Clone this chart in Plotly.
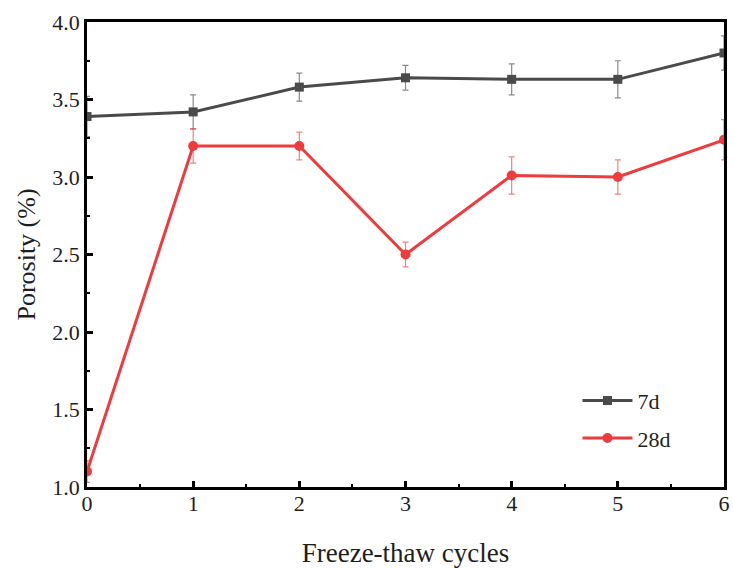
import plotly.graph_objects as go

# Freeze-thaw cycles and porosity (%) for two curing ages
cycles = [0, 1, 2, 3, 4, 5, 6]
porosity_7d = [3.39, 3.42, 3.58, 3.64, 3.63, 3.63, 3.80]
err_7d = [0.13, 0.11, 0.09, 0.08, 0.10, 0.12, 0.11]
porosity_28d = [1.10, 3.20, 3.20, 2.50, 3.01, 3.00, 3.24]
err_28d = [0.07, 0.11, 0.09, 0.08, 0.12, 0.11, 0.13]

font_family = "Liberation Serif, DejaVu Serif, serif"
text_color = "#1e1e1e"

fig = go.Figure()
fig.add_trace(go.Scatter(
    x=cycles, y=porosity_7d, name="7d", mode="lines+markers", legendgroup="a",
    line=dict(color="#4a4a4a", width=3),
    marker=dict(symbol="square", size=9, color="#4a4a4a"),
    error_y=dict(type="data", array=err_7d, color="rgba(74,74,74,0.65)",
                 thickness=1.2, width=3),
))
fig.add_trace(go.Scatter(
    x=cycles, y=porosity_28d, name="28d", mode="lines+markers", legendgroup="b",
    line=dict(color="#ef3b3d", width=3),
    marker=dict(symbol="circle", size=10, color="#ef3b3d"),
    error_y=dict(type="data", array=err_28d, color="rgba(239,59,61,0.65)",
                 thickness=1.2, width=3),
))

axis_common = dict(
    showline=True, linecolor="black", linewidth=2.5, mirror=True,
    ticks="inside", ticklen=6, tickwidth=2.5, tickcolor="black",
    showgrid=False, zeroline=False, automargin=False,
    tickfont=dict(family=font_family, size=22, color=text_color),
)

fig.update_xaxes(
    range=[0, 6], tickvals=cycles, ticklabelstandoff=-5,
    minor=dict(dtick=0.5, ticks="inside", ticklen=3, tickwidth=2, tickcolor="black"),
    title=dict(text="Freeze-thaw cycles", font=dict(family=font_family, size=27, color=text_color),
               standoff=34),
    **axis_common,
)
fig.update_yaxes(
    range=[1.0, 4.0], tickvals=[1.0, 1.5, 2.0, 2.5, 3.0, 3.5, 4.0], tickformat=".1f",
    minor=dict(dtick=0.25, ticks="inside", ticklen=3, tickwidth=2, tickcolor="black"),
    title=dict(text="Porosity (%)", font=dict(family=font_family, size=26, color=text_color),
               standoff=10),
    **axis_common,
)

fig.update_layout(
    width=734, height=568,
    margin=dict(l=87, r=10, t=22, b=81),
    plot_bgcolor="white", paper_bgcolor="white",
    font=dict(family=font_family, color=text_color),
    legend=dict(x=0.77, y=0.145, xanchor="left", yanchor="middle",
                bgcolor="rgba(0,0,0,0)", borderwidth=0,
                font=dict(family=font_family, size=22, color=text_color),
                itemwidth=50, tracegroupgap=6),
    showlegend=True,
)

fig.write_html("out.html")
